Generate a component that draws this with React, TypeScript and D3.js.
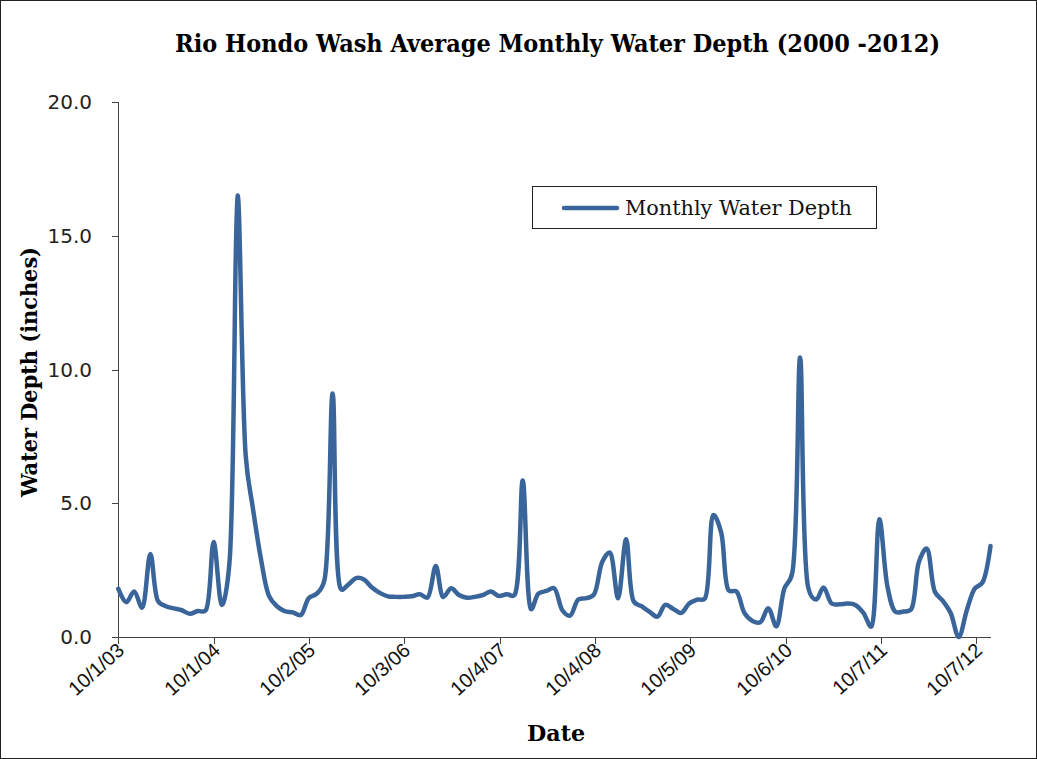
import React from "react";
import * as d3 from "d3";

const startMonth = new Date(2003, 9, 1);
const endMonth = new Date(2012, 11, 1);
const months: Date[] = d3.timeMonth.range(startMonth, d3.timeMonth.offset(endMonth, 1));

// Monthly water depth (inches), Oct 2003 .. Dec 2012
const depth: number[] = [
  1.8, 1.3, 1.7, 1.1, 3.1, 1.35, 1.15, 1.07, 1.0, 0.87, 0.97, 1.0,
  3.55, 1.2, 2.8, 16.5, 6.8, 4.8, 2.9, 1.55, 1.15, 0.97, 0.92, 0.82,
  1.45, 1.62, 2.15, 9.1, 1.8, 1.95, 2.2, 2.15, 1.85, 1.65, 1.52, 1.5,
  1.5, 1.52, 1.6, 1.48, 2.65, 1.5, 1.82, 1.57, 1.47, 1.5, 1.57, 1.7,
  1.53, 1.6, 1.58, 5.85, 1.05, 1.62, 1.72, 1.82, 1.0, 0.8, 1.4, 1.45,
  1.6, 2.8, 3.15, 1.45, 3.65, 1.35, 1.15, 0.95, 0.76, 1.2, 1.05, 0.9,
  1.25, 1.4, 1.45, 4.55, 3.9, 1.75, 1.7, 0.9, 0.6, 0.55, 1.07, 0.4,
  1.8, 2.4, 10.45, 1.85, 1.4, 1.85, 1.25, 1.22, 1.25, 1.2, 0.9, 0.4,
  4.4, 1.9, 0.95, 0.95, 1.05, 2.8, 3.3, 1.7, 1.35, 0.9, 0.0, 1.0,
  1.8, 2.05, 3.4,
];

const yTicks: number[] = [0, 5, 10, 15, 20];
const xTickCount = 10;
const xTickStepDays = 366;

const title = "Rio Hondo Wash Average Monthly Water Depth (2000 -2012)";
const yTitle = "Water Depth (inches)";
const xTitle = "Date";
const seriesName = "Monthly Water Depth";

export default function App() {
  const W = 1037, H = 759;
  const x = d3.scaleTime().domain([startMonth, endMonth]).range([118.3, 990.5]);
  const y = d3.scaleLinear().domain([0, 20]).range([637, 102]);
  const xTicks = d3.range(xTickCount).map((i) => d3.timeDay.offset(startMonth, i * xTickStepDays));
  const fmt = (d: Date) => `${d.getMonth() + 1}/${d.getDate()}/${String(d.getFullYear()).slice(2)}`;
  const data = months.map((m, i) => ({ date: m, v: depth[i] }));
  const line = d3
    .line<{ date: Date; v: number }>()
    .x((d) => x(d.date))
    .y((d) => y(d.v))
    .curve(d3.curveCatmullRom.alpha(0.4));
  const axisColor = "#444";
  const lineColor = "#3A659A";
  const serif = "'DejaVu Serif', serif";
  const sans = "'Liberation Sans', Arial, sans-serif";
  return (
    <svg width={W} height={H} style={{ position: "absolute", left: 0, top: 0, display: "block", background: "#fff" }}>
      <rect x={0.5} y={0.5} width={W - 1} height={H - 1} fill="#fff" stroke="#222" strokeWidth={1} />
      <text x={557.5} y={52} textAnchor="middle" fontFamily={serif} fontWeight="bold" fontSize={24}
        textLength={765} lengthAdjust="spacingAndGlyphs">{title}</text>
      {/* y axis */}
      <line x1={118.5} x2={118.5} y1={102} y2={637} stroke={axisColor} strokeWidth={1} />
      {yTicks.map((t) => (
        <g key={t}>
          <line x1={112} x2={118.5} y1={Math.round(y(t)) + 0.5} y2={Math.round(y(t)) + 0.5} stroke={axisColor} />
          <text x={92} y={y(t)} dy="0.36em" textAnchor="end" fontFamily="'DejaVu Sans', Verdana, sans-serif"
            fontSize={20} fill="#222">{t.toFixed(1)}</text>
        </g>
      ))}
      {/* x axis */}
      <line x1={118.3} x2={991} y1={637.5} y2={637.5} stroke={axisColor} strokeWidth={1} />
      {xTicks.map((t, i) => {
        const px = Math.round(x(t)) + 0.5;
        return (
          <g key={i}>
            <line x1={px} x2={px} y1={637.5} y2={644} stroke={axisColor} />
            <text transform={`translate(${px + 7},${652}) rotate(-42)`} textAnchor="end" fontFamily={sans}
              fontSize={20} fill="#111">{fmt(t)}</text>
          </g>
        );
      })}
      <text x={556} y={741} textAnchor="middle" fontFamily={serif} fontWeight="bold" fontSize={23}
        textLength={58} lengthAdjust="spacingAndGlyphs">{xTitle}</text>
      <text transform="translate(37,372) rotate(-90)" textAnchor="middle" fontFamily={serif} fontWeight="bold"
        fontSize={23} textLength={250} lengthAdjust="spacingAndGlyphs">{yTitle}</text>
      {/* series */}
      <path d={line(data) || ""} fill="none" stroke={lineColor} strokeWidth={4.5} strokeLinejoin="round" strokeLinecap="round" />
      {/* legend */}
      <rect x={532.5} y={186.5} width={344} height={42} fill="#fff" stroke="#222" />
      <line x1={564} x2={617} y1={208} y2={208} stroke={lineColor} strokeWidth={4.5} strokeLinecap="round" />
      <text x={625} y={215} fontFamily={serif} fontSize={20} textLength={227} lengthAdjust="spacingAndGlyphs" fill="#111">{seriesName}</text>
    </svg>
  );
}
